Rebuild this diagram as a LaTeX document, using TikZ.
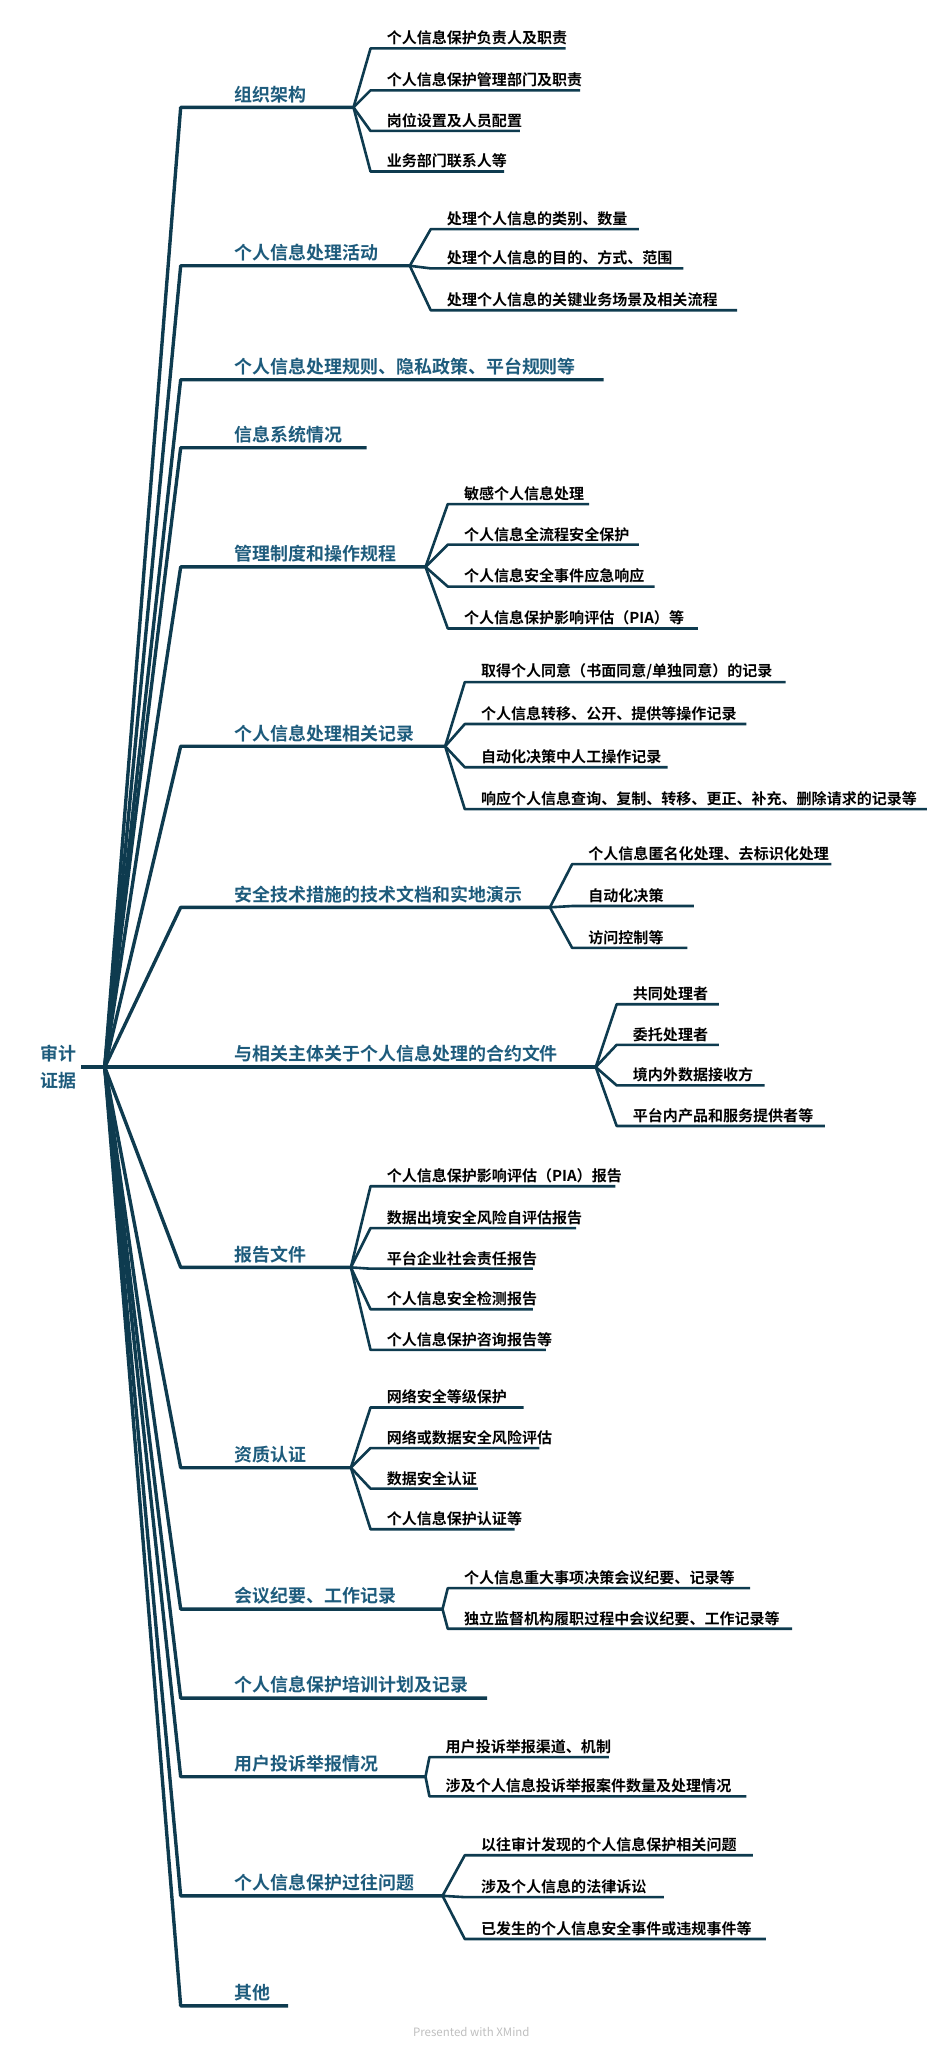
\documentclass[tikz,border=0pt]{standalone}
\usepackage{fontspec}
\setmainfont{Noto Sans CJK SC}
\newfontfamily\cjkbold{Noto Sans CJK SC Bold}
\usepackage{tikz}
\definecolor{branch}{HTML}{0E3B4F}
\definecolor{topic}{HTML}{1D5B7C}
% leaf: name, parent, start x, y, end x, text
\newcommand\leaf[6]{%
  \coordinate (#1s) at (#3,#4);
  \coordinate (#1e) at (#5,#4);
  \draw[twig] (#2) -- (#1s) -- (#1e);
  \node[leaftext] (#1) at (#3+11,#4-1) {#6};}
% topic: name, y, end x, text
\newcommand\topic[4]{%
  \coordinate (#1s) at (138,#2);
  \coordinate (#1e) at (#3,#2);
  \draw[limb] (root) -- (#1s) -- (#1e);
  \node[topictext] (#1) at (178,#2-2) {#4};}
\begin{document}
\begin{tikzpicture}[x=0.03cm,y=-0.03cm,
  limb/.style = {draw=branch, line width=2.2pt, line join=round},
  twig/.style = {draw=branch, line width=1.7pt, line join=round},
  topictext/.style = {anchor=south west, inner sep=1pt, text=topic, font=\cjkbold\fontsize{11.7pt}{13pt}\selectfont},
  leaftext/.style = {anchor=south west, inner sep=1pt, font=\cjkbold\fontsize{9.8pt}{11pt}\selectfont}]
\useasboundingbox (0,0) rectangle (720,1565);
\coordinate (root) at (80,815);
\coordinate (rootl) at (62,815);
\node[text=topic, font=\cjkbold\fontsize{11.7pt}{17pt}\selectfont, align=center] (rt) at (45,815) {审计\\证据};
\draw[limb] (rootl) -- (root);

\topic{a}{82}{270}{组织架构}
\leaf{a1}{ae}{283}{37}{432}{个人信息保护负责人及职责}
\leaf{a2}{ae}{283}{69}{443}{个人信息保护管理部门及职责}
\leaf{a3}{ae}{283}{100}{397}{岗位设置及人员配置}
\leaf{a4}{ae}{283}{131}{385}{业务部门联系人等}

\topic{b}{203}{313}{个人信息处理活动}
\leaf{b1}{be}{329}{175}{488}{处理个人信息的类别、数量}
\leaf{b2}{be}{329}{205}{522}{处理个人信息的目的、方式、范围}
\leaf{b3}{be}{329}{237}{563}{处理个人信息的关键业务场景及相关流程}

\topic{c}{290}{461}{个人信息处理规则、隐私政策、平台规则等}
\topic{d}{342}{280}{信息系统情况}

\topic{e}{433}{325}{管理制度和操作规程}
\leaf{e1}{ee}{342}{385}{450}{敏感个人信息处理}
\leaf{e2}{ee}{342}{416}{488}{个人信息全流程安全保护}
\leaf{e3}{ee}{342}{448}{500}{个人信息安全事件应急响应}
\leaf{e4}{ee}{342}{480}{533}{个人信息保护影响评估（PIA）等}

\topic{f}{570}{340}{个人信息处理相关记录}
\leaf{f1}{fe}{355}{521}{600}{取得个人同意（书面同意/单独同意）的记录}
\leaf{f2}{fe}{355}{553}{570}{个人信息转移、公开、提供等操作记录}
\leaf{f3}{fe}{355}{586}{510}{自动化决策中人工操作记录}
\leaf{f4}{fe}{355}{618}{708}{响应个人信息查询、复制、转移、更正、补充、删除请求的记录等}

\topic{g}{693}{420}{安全技术措施的技术文档和实地演示}
\leaf{g1}{ge}{437}{660}{635}{个人信息匿名化处理、去标识化处理}
\leaf{g2}{ge}{437}{692}{530}{自动化决策}
\leaf{g3}{ge}{437}{724}{525}{访问控制等}

\topic{h}{815}{455}{与相关主体关于个人信息处理的合约文件}
\leaf{h1}{he}{471}{767}{549}{共同处理者}
\leaf{h2}{he}{471}{798}{549}{委托处理者}
\leaf{h3}{he}{471}{829}{584}{境内外数据接收方}
\leaf{h4}{he}{471}{860}{630}{平台内产品和服务提供者等}

\topic{i}{968}{268}{报告文件}
\leaf{i1}{ie}{283}{906}{470}{个人信息保护影响评估（PIA）报告}
\leaf{i2}{ie}{283}{938}{440}{数据出境安全风险自评估报告}
\leaf{i3}{ie}{283}{969}{407}{平台企业社会责任报告}
\leaf{i4}{ie}{283}{1000}{407}{个人信息安全检测报告}
\leaf{i5}{ie}{283}{1031}{417}{个人信息保护咨询报告等}

\topic{j}{1121}{268}{资质认证}
\leaf{j1}{je}{283}{1075}{400}{网络安全等级保护}
\leaf{j2}{je}{283}{1106}{412}{网络或数据安全风险评估}
\leaf{j3}{je}{283}{1137}{365}{数据安全认证}
\leaf{j4}{je}{283}{1168}{393}{个人信息保护认证等}

\topic{k}{1229}{338}{会议纪要、工作记录}
\leaf{k1}{ke}{342}{1213}{573}{个人信息重大事项决策会议纪要、记录等}
\leaf{k2}{ke}{342}{1244}{605}{独立监督机构履职过程中会议纪要、工作记录等}

\topic{l}{1297}{372}{个人信息保护培训计划及记录}

\topic{m}{1357}{325}{用户投诉举报情况}
\leaf{m1}{me}{328}{1342}{465}{用户投诉举报渠道、机制}
\leaf{m2}{me}{328}{1372}{570}{涉及个人信息投诉举报案件数量及处理情况}

\topic{n}{1448}{338}{个人信息保护过往问题}
\leaf{n1}{ne}{355}{1417}{575}{以往审计发现的个人信息保护相关问题}
\leaf{n2}{ne}{355}{1449}{507}{涉及个人信息的法律诉讼}
\leaf{n3}{ne}{355}{1481}{585}{已发生的个人信息安全事件或违规事件等}

\topic{o}{1532}{220}{其他}

\node[text=black!25, font=\fontsize{7.5pt}{9pt}\selectfont] (credit) at (360,1552) {Presented with XMind};
\end{tikzpicture}
\end{document}
